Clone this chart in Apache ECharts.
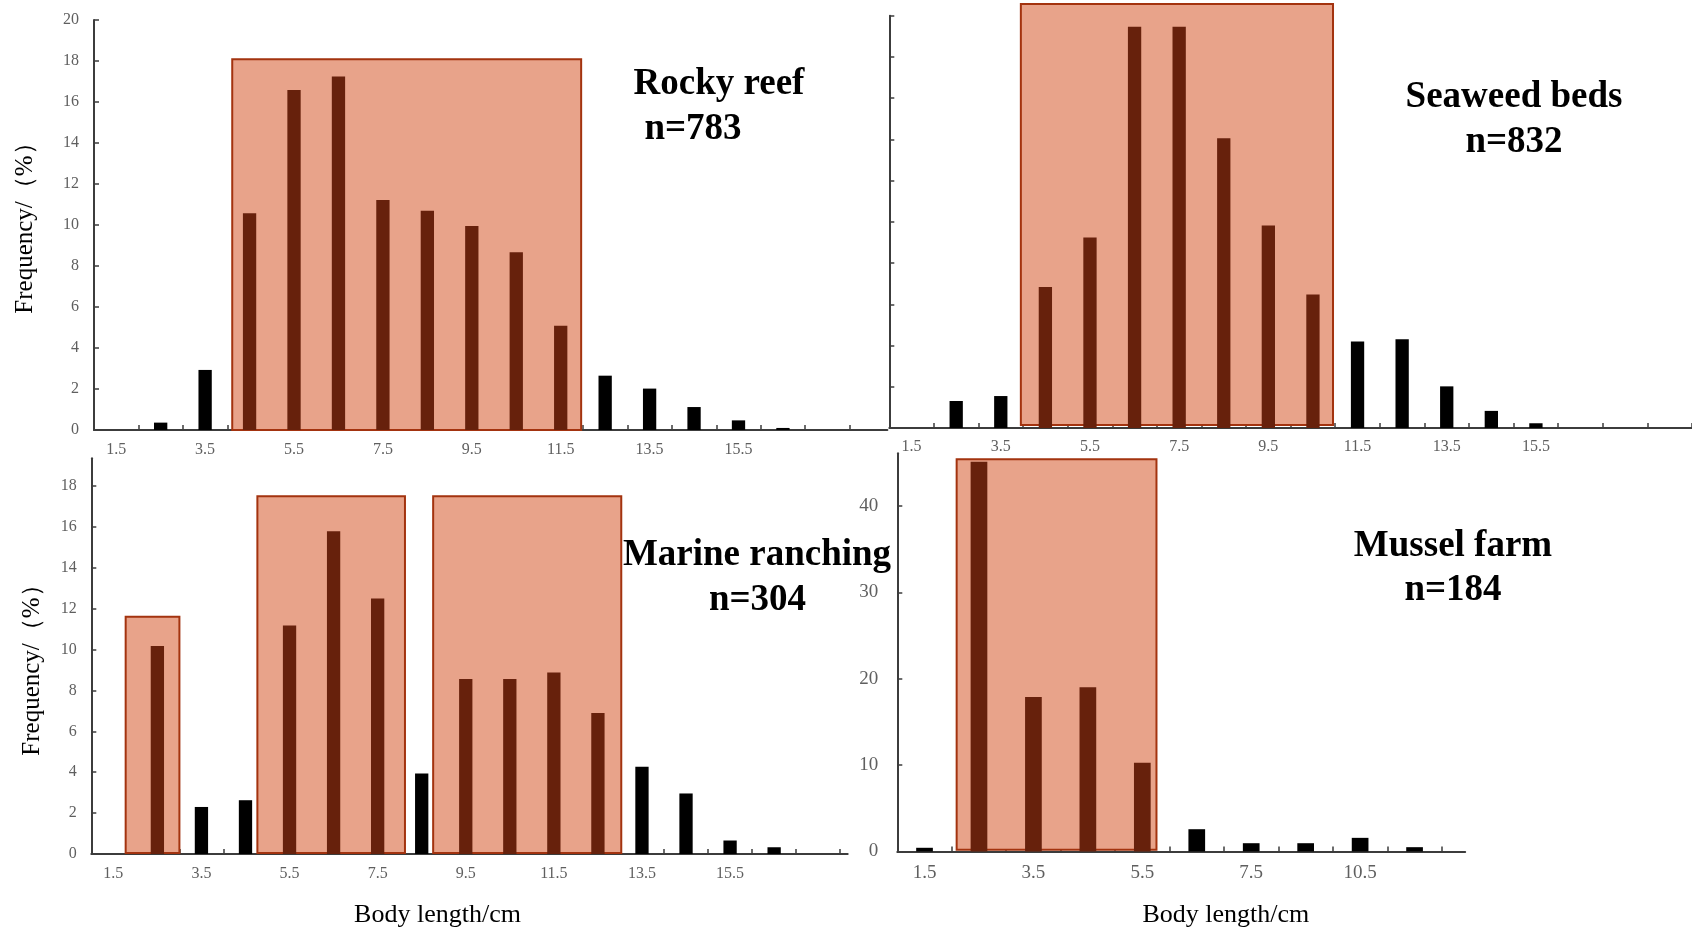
<!DOCTYPE html>
<html>
<head>
<meta charset="utf-8">
<script src="https://cdn.jsdelivr.net/npm/echarts@6/dist/echarts.min.js"></script>
<style>
html,body{margin:0;padding:0;background:#ffffff;}
#chart{width:1692px;height:929px;}
</style>
</head>
<body>
<div id="chart"></div>
<script>
// ---------------- DATA ----------------
// Rocky reef, n=783
const rockyCategories = ['1.5','2.5','3.5','4.5','5.5','6.5','7.5','8.5','9.5','10.5','11.5','12.5','13.5','14.5','15.5','16.5','17.5'];
const rockyFrequency  = [0, 0.36, 2.93, 10.57, 16.59, 17.24, 11.22, 10.70, 9.95, 8.67, 5.09, 2.65, 2.02, 1.12, 0.47, 0.10, 0];
const rockyTickLabels = ['1.5','3.5','5.5','7.5','9.5','11.5','13.5','15.5'];
const rockyYTicks     = [0,2,4,6,8,10,12,14,16,18,20];
// highlighted ranges: [from bin, to bin, bottom %, top %]
const rockyHighlight  = [[3.11, 10.96, 0, 18.08]];

// Seaweed beds, n=832
const seaweedCategories = ['1.5','2.5','3.5','4.5','5.5','6.5','7.5','8.5','9.5','10.5','11.5','12.5','13.5','14.5','15.5','16.5','17.5','18.5'];
const seaweedFrequency  = [0, 1.31, 1.55, 6.84, 9.24, 19.47, 19.47, 14.05, 9.82, 6.47, 4.19, 4.30, 2.02, 0.83, 0.23, 0, 0, 0];
const seaweedTickLabels = ['1.5','3.5','5.5','7.5','9.5','11.5','13.5','15.5'];
const seaweedYTicks     = [0,2,4,6,8,10,12,14,16,18,20];
const seaweedHighlight  = [[2.95, 9.95, 0.15, 20.57]];

// Marine ranching, n=304
const marineCategories = ['1.5','2.5','3.5','4.5','5.5','6.5','7.5','8.5','9.5','10.5','11.5','12.5','13.5','14.5','15.5','16.5','17.5'];
const marineFrequency  = [0, 10.17, 2.30, 2.63, 11.17, 15.78, 12.49, 3.94, 8.56, 8.56, 8.87, 6.90, 4.27, 2.96, 0.66, 0.33, 0];
const marineTickLabels = ['1.5','3.5','5.5','7.5','9.5','11.5','13.5','15.5'];
const marineYTicks     = [0,2,4,6,8,10,12,14,16,18];
const marineHighlight  = [[0.78, 2.0, 0.05, 11.6], [3.77, 7.12, 0.05, 17.5], [7.76, 12.03, 0.05, 17.5]];

// Mussel farm, n=184
const musselCategories = ['1.5','2.5','3.5','4.5','5.5','6.5','7.5','8.5','10.5','11.5'];
const musselFrequency  = [0.43, 45.1, 17.87, 19.0, 10.28, 2.58, 0.96, 0.96, 1.58, 0.5];
const musselTickLabels = ['1.5','3.5','5.5','7.5','10.5'];
const musselYTicks     = [0,10,20,30,40];
const musselHighlight  = [[1.09, 4.76, 0.2, 45.4]];

const panelTitles = [['Rocky reef','n=783'], ['Seaweed beds','n=832'], ['Marine ranching','n=304'], ['Mussel farm','n=184']];
const xAxisTitle = 'Body length/cm';
const yAxisTitle = 'Frequency/（%）';

// ---------------- STYLE ----------------
const SERIF = '"Liberation Serif","Times New Roman",serif';
const AXIS = '#3c3c3c';
const LABEL = '#5f5f5f';
const BAR = '#000000';
const BAR_IN = '#67210c';
const BOX_FILL = '#e8a38a';
const BOX_LINE = '#a3330f';

const panels = [
  {cats: rockyCategories, vals: rockyFrequency, labels: rockyTickLabels, yTicks: rockyYTicks, boxes: rockyHighlight,
   xMax: 17.85, yMax: 20, grid: {left: 94, top: 20, width: 793.4, height: 410}, showY: true, fs: 16, yMargin: 15, xMargin: 12, barWidth: 13.3},
  {cats: seaweedCategories, vals: seaweedFrequency, labels: seaweedTickLabels, yTicks: seaweedYTicks, boxes: seaweedHighlight,
   xMax: 18, yMax: 20, grid: {left: 889.3, top: 15.7, width: 804, height: 412.3}, showY: false, fs: 16, yMargin: 15, xMargin: 11, barWidth: 13.3},
  {cats: marineCategories, vals: marineFrequency, labels: marineTickLabels, yTicks: marineYTicks, boxes: marineHighlight,
   xMax: 17.17, yMax: 19.35, grid: {left: 91.3, top: 458.3, width: 756.4, height: 395.7}, showY: true, fs: 16, yMargin: 14.5, xMargin: 12, barWidth: 13.3},
  {cats: musselCategories, vals: musselFrequency, labels: musselTickLabels, yTicks: musselYTicks, boxes: musselHighlight,
   xMax: 10.43, yMax: 46.1, grid: {left: 897.3, top: 453.2, width: 567.9, height: 398.3}, showY: true, fs: 19, yMargin: 19, xMargin: 12, barWidth: 16.7}
];

const grids = [], xAxes = [], yAxes = [], series = [];

panels.forEach((p, i) => {
  grids.push(Object.assign({containLabel: false}, p.grid));
  const binTicks = [];
  for (let k = 1; k <= Math.floor(p.xMax); k++) binTicks.push(k);
  xAxes.push({
    gridIndex: i, type: 'value', min: 0, max: p.xMax,
    axisLine: {show: true, onZero: false, lineStyle: {color: AXIS, width: 2}},
    axisTick: {show: true, inside: true, length: 5, customValues: binTicks, lineStyle: {color: AXIS, width: 1.5}},
    axisLabel: {show: true, customValues: p.labels.map(l => p.cats.indexOf(l) + 0.5),
      formatter: v => p.cats[Math.floor(v)], fontFamily: SERIF, fontSize: p.fs, color: LABEL, margin: p.xMargin},
    splitLine: {show: false}
  });
  yAxes.push({
    gridIndex: i, type: 'value', min: 0, max: p.yMax,
    axisLine: {show: true, lineStyle: {color: AXIS, width: 2}},
    axisTick: {show: true, inside: true, length: 5, customValues: p.yTicks, lineStyle: {color: AXIS, width: 1.5}},
    axisLabel: {show: p.showY, customValues: p.yTicks, fontFamily: SERIF, fontSize: p.fs, color: LABEL, margin: p.yMargin},
    splitLine: {show: false}
  });
  const inBox = k => p.boxes.some(b => k + 0.5 > b[0] && k + 0.5 < b[1]);
  series.push({
    type: 'custom', xAxisIndex: i, yAxisIndex: i, z: 1, silent: true, clip: false,
    data: p.boxes,
    renderItem: (params, api) => {
      const a = api.coord([api.value(0), api.value(3)]);
      const b = api.coord([api.value(1), api.value(2)]);
      return {type: 'rect', shape: {x: a[0], y: a[1], width: b[0] - a[0], height: b[1] - a[1]},
        style: {fill: BOX_FILL, stroke: BOX_LINE, lineWidth: 2}};
    }
  });
  series.push({
    type: 'bar', xAxisIndex: i, yAxisIndex: i, z: 3, silent: true, barWidth: p.barWidth,
    data: p.vals.map((v, k) => ({value: [k + 0.5, v], itemStyle: {color: inBox(k) ? BAR_IN : BAR}}))
  });
});

const titleFont = 'bold 37px ' + SERIF;
const titlePos = [[[719, 84], [693, 129]], [[1514, 97], [1514, 142]], [[757, 555], [757.5, 600]], [[1453, 546], [1453, 590]]];
const graphics = [];
panelTitles.forEach((t, i) => {
  t.forEach((line, j) => {
    graphics.push({type: 'text', x: titlePos[i][j][0], y: titlePos[i][j][1], z: 10,
      style: {text: line, font: titleFont, fill: '#000', align: 'center', verticalAlign: 'middle'}});
  });
});
[[437.5, 915], [1225.8, 915]].forEach(pt => {
  graphics.push({type: 'text', x: pt[0], y: pt[1], z: 10,
    style: {text: xAxisTitle, font: '26px ' + SERIF, fill: '#000', align: 'center', verticalAlign: 'middle'}});
});
[[25, 222], [32, 664]].forEach(pt => {
  graphics.push({type: 'text', x: pt[0], y: pt[1], rotation: Math.PI / 2, z: 10,
    style: {text: yAxisTitle, font: '25px ' + SERIF, fill: '#000', align: 'center', verticalAlign: 'middle'}});
});

const chart = echarts.init(document.getElementById('chart'), null, {renderer: 'canvas'});
chart.setOption({
  animation: false,
  backgroundColor: '#ffffff',
  grid: grids, xAxis: xAxes, yAxis: yAxes, series: series,
  graphic: graphics
});
</script>
</body>
</html>
